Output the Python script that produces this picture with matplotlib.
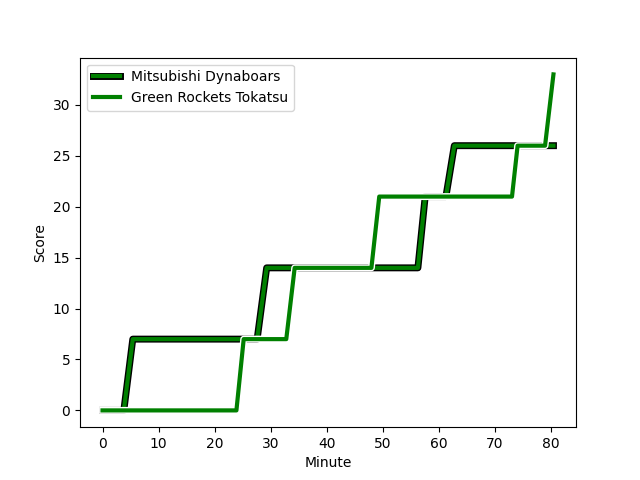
import matplotlib
matplotlib.use("Agg")
import matplotlib.pyplot as plt
import matplotlib.patheffects as pe

# Minute / score data
mitsu_minute = [0, 3.8, 5.4, 27.6, 29.3, 56.3, 57.6, 61.3, 62.8, 80.5]
mitsu_score = [0, 0, 7, 7, 14, 14, 21, 21, 26, 26]

rockets_minute = [0, 23.9, 25.2, 32.8, 34.3, 48.0, 49.4, 73.1, 74.1, 79.0, 80.5]
rockets_score = [0, 0, 7, 7, 14, 14, 21, 21, 26, 26, 33]

team_names = ["Mitsubishi Dynaboars", "Green Rockets Tokatsu"]

fig, ax = plt.subplots(figsize=(6.4, 4.8), dpi=100)

ax.plot(mitsu_minute, mitsu_score, color="green", lw=3, label=team_names[0],
        path_effects=[pe.Stroke(linewidth=5, foreground="black"), pe.Normal()])
ax.plot(rockets_minute, rockets_score, color="green", lw=3, label=team_names[1],
        path_effects=[pe.Stroke(linewidth=5, foreground="white"), pe.Normal()])

ax.set_xlabel("Minute")
ax.set_ylabel("Score")
ax.legend(loc="upper left")

fig.savefig("out.png", dpi=100)
